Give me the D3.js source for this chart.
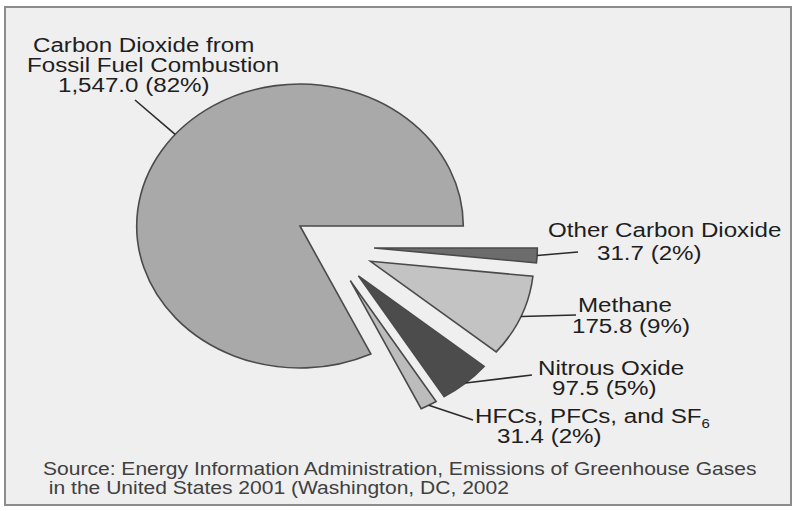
<!DOCTYPE html>
<html>
<head>
<meta charset="utf-8">
<script src="https://cdn.jsdelivr.net/npm/d3@7"></script>
<style>
  html, body { margin: 0; padding: 0; background: #ffffff; }
  svg { display: block; }
</style>
</head>
<body>
<svg id="chart" width="796" height="511"></svg>
<script>
// Greenhouse gas emissions by gas, United States 2001 (million metric tons carbon equivalent)
const categories = ["Other Carbon Dioxide", "Methane", "Nitrous Oxide", "HFCs, PFCs, and SF_6", "Carbon Dioxide from Fossil Fuel Combustion"];
const labelLines = [["Other Carbon Dioxide"], ["Methane"], ["Nitrous Oxide"], ["HFCs, PFCs, and SF_6"], ["Carbon Dioxide from", "Fossil Fuel Combustion"]];
const emissions = [31.7, 175.8, 97.5, 31.4, 1547.0];
const sourceLines = [
  "Source: Energy Information Administration, Emissions of Greenhouse Gases",
  " in the United States 2001 (Washington, DC, 2002"
];

// Styling
const sliceFills = ["#6c6c6c", "#c3c3c3", "#4c4c4c", "#bcbcbc", "#a9a9a9"];
const strokeColor = "#4a4a4a";

// Layout (screen pixels); the drawing is stretched horizontally by SX
const W = 796, H = 511, SX = 1.15;
const center = { x: 300, y: 226 };
const radius = 142;
const groupShift = { angle: 38.8, dist: 0.223 }; // small slices shifted as a group (fraction of radius)
const explode = 0.28;                              // each small slice pulled out along its mid-angle

// label text starts (screen px) per slice, per line; leader anchor along the arc and leader end point
const labelPos = [
  { lines: [[548, 237]], value: [597, 260], leaderAt: 0.5, leaderEnd: [578, 252] },
  { lines: [[578, 312]], value: [572, 333], leaderAt: 0.5, leaderEnd: [576, 315] },
  { lines: [[538, 375]], value: [552, 395], leaderAt: 0.5, leaderEnd: [532, 375] },
  { lines: [[475, 423]], value: [497, 443], leaderAt: 0.5, leaderEnd: [473, 420] },
  { lines: [[33, 52], [27, 72]], value: [58, 92], leaderAt: 0.527, leaderEnd: [135, 100] }
];

const svg = d3.select("#chart");

// frame
svg.append("rect")
  .attr("x", 5).attr("y", 7).attr("width", 786).attr("height", 498)
  .attr("fill", "#efefef").attr("stroke", "#8c8c8c").attr("stroke-width", 2);

const g = svg.append("g").attr("transform", `scale(${SX},1)`);
const sx = x => x / SX;

const total = d3.sum(emissions);
const pie = d3.pie().sort(null).value(d => d)
  .startAngle(Math.PI / 2).endAngle(Math.PI / 2 + 2 * Math.PI);
const arcs = pie(emissions);
const arc = d3.arc().innerRadius(0).outerRadius(radius);

const ga = groupShift.angle * Math.PI / 180;
function offsetOf(d, i) {
  if (i === emissions.length - 1) return [0, 0];
  const mid = (d.startAngle + d.endAngle) / 2;
  const ox = groupShift.dist * Math.cos(ga) + explode * Math.sin(mid);
  const oy = groupShift.dist * Math.sin(ga) - explode * Math.cos(mid);
  return [ox * radius, oy * radius];
}

const cx = sx(center.x), cy = center.y;

// slices
g.selectAll("path.slice")
  .data(arcs)
  .join("path")
  .attr("class", "slice")
  .attr("d", arc)
  .attr("transform", (d, i) => {
    const [ox, oy] = offsetOf(d, i);
    return `translate(${cx + ox},${cy + oy})`;
  })
  .attr("fill", (d, i) => sliceFills[i])
  .attr("stroke", strokeColor)
  .attr("stroke-width", 1.6)
  .attr("stroke-linejoin", "miter")
  .style("vector-effect", "non-scaling-stroke");

// leader lines from a point on each slice's outer arc
g.selectAll("line.leader")
  .data(arcs)
  .join("line")
  .attr("class", "leader")
  .each(function (d, i) {
    const [ox, oy] = offsetOf(d, i);
    const a = d.startAngle + (d.endAngle - d.startAngle) * labelPos[i].leaderAt;
    const x1 = cx + ox + radius * Math.sin(a);
    const y1 = cy + oy - radius * Math.cos(a);
    d3.select(this)
      .attr("x1", x1).attr("y1", y1)
      .attr("x2", sx(labelPos[i].leaderEnd[0])).attr("y2", labelPos[i].leaderEnd[1]);
  })
  .attr("stroke", "#2a2a2a")
  .attr("stroke-width", 1.6)
  .style("vector-effect", "non-scaling-stroke");

// labels
const fmtVal = d3.format(",.1f");
const labels = g.append("g")
  .attr("font-family", "'Liberation Sans', Arial, sans-serif")
  .attr("font-size", 21)
  .attr("fill", "#1e1e1e");

function addRichText(sel, str) {
  const parts = str.split("_");
  sel.append("tspan").text(parts[0]);
  if (parts.length > 1) {
    sel.append("tspan").attr("font-size", 13).attr("dy", 5).text(parts[1]);
  }
}

labelLines.forEach((lines, i) => {
  lines.forEach((ln, j) => {
    const p = labelPos[i].lines[j];
    const t = labels.append("text").attr("x", sx(p[0])).attr("y", p[1]);
    addRichText(t, ln);
  });
  const pct = Math.round(emissions[i] / total * 100);
  const vp = labelPos[i].value;
  labels.append("text")
    .attr("x", sx(vp[0])).attr("y", vp[1])
    .text(`${fmtVal(emissions[i])} (${pct}%)`);
});

// source note
g.append("g")
  .attr("font-family", "'Liberation Sans', Arial, sans-serif")
  .attr("font-size", 18.3)
  .attr("fill", "#404040")
  .selectAll("text")
  .data(sourceLines)
  .join("text")
  .attr("x", sx(43))
  .attr("y", (d, i) => 475 + i * 19)
  .attr("xml:space", "preserve")
  .style("white-space", "pre")
  .text(d => d);
</script>
</body>
</html>
